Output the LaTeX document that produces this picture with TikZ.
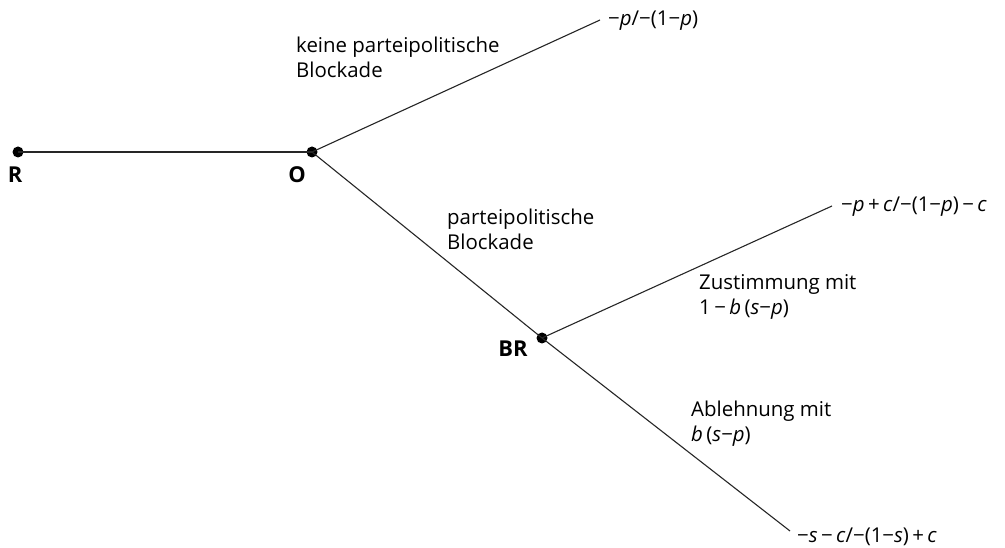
\documentclass[tikz,border=0pt]{standalone}
\usepackage{fontspec}
\setmainfont{Open Sans}
\newcommand{\vi}[1]{\textit{#1}}
\begin{document}
\begin{tikzpicture}[x=1bp,y=-1bp,
  dot/.style={circle,fill=black,inner sep=0pt,minimum size=11bp},
  edge/.style={draw=black!85,line width=1.1bp},
  lbl/.style={font=\fontsize{20.5}{25}\selectfont,align=left,anchor=west,inner sep=0pt},
  pl/.style={font=\bfseries\fontsize{22}{24}\selectfont,inner sep=0pt}]
\useasboundingbox (0,0) rectangle (1005,548);
\node[dot] (R) at (18,152) {};
\node[dot] (O) at (312,152) {};
\node[dot] (BR) at (542,338) {};
\coordinate (E1) at (600,20);
\coordinate (E2) at (832,206);
\coordinate (E3) at (790,531);
\draw[edge] (R.center) -- (O.center);
\draw[edge] (O.center) -- (E1);
\draw[edge] (O.center) -- (BR.center);
\draw[edge] (BR.center) -- (E2);
\draw[edge] (BR.center) -- (E3);
\node[pl] (Rl) at (15,175) {R};
\node[pl] (Ol) at (297,175) {O};
\node[pl] (BRl) at (513,349) {BR};
\node[lbl] (p1) at (608,21) {−\vi{p}/−(1−\vi{p})};
\node[lbl] (k) at (296,57) {keine parteipolitische\\Blockade};
\node[lbl] (pb) at (447,229) {parteipolitische\\Blockade};
\node[lbl] (p2) at (841,207) {−\vi{p}\,+\,\vi{c}/−(1−\vi{p})\,−\,\vi{c}};
\node[lbl] (z) at (699,297) {Zustimmung mit\\1\,−\,\vi{b}\,(\vi{s}−\vi{p})};
\node[lbl] (a) at (691,424) {Ablehnung mit\\\vi{b}\,(\vi{s}−\vi{p})};
\node[lbl] (p3) at (797,537) {−\vi{s}\,−\,\vi{c}/−(1−\vi{s})\,+\,\vi{c}};
\end{tikzpicture}
\end{document}
